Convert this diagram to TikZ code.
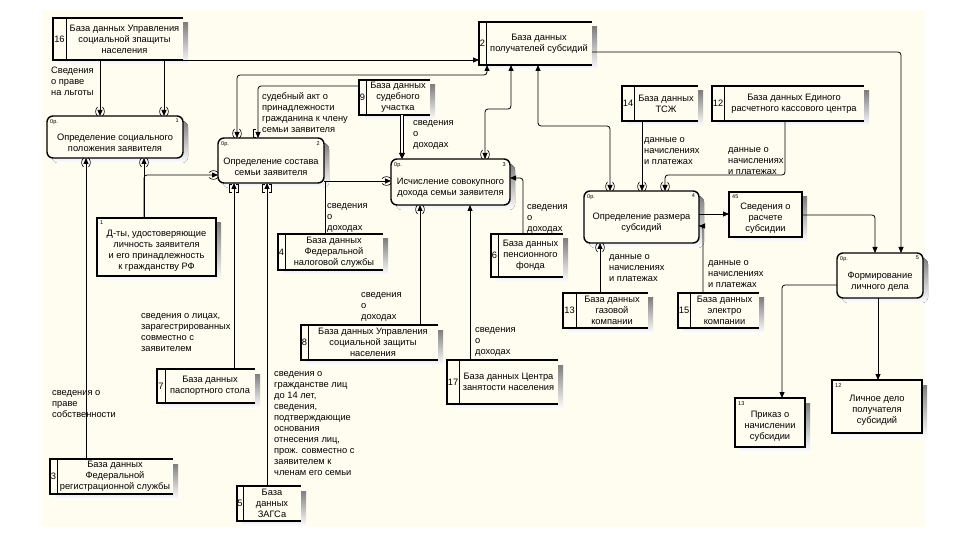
\documentclass[tikz,border=0pt]{standalone}
\usepackage{fontspec}
\setmainfont{Liberation Sans}
\usetikzlibrary{arrows.meta}
\definecolor{paper}{RGB}{255,252,240}
\definecolor{shade}{RGB}{150,150,150}
\tikzset{
  proc/.style={draw, line width=1.4pt, rounded corners=6pt, fill=paper, anchor=north west, inner sep=0pt, outer sep=0pt},
  store/.style={fill=paper, anchor=north west, inner sep=0pt, outer sep=0pt},
  outbox/.style={draw, line width=2.4pt, fill=paper, anchor=north west, inner sep=0pt, outer sep=0pt},
  boxtxt/.style={align=center, font=\fontsize{9.3}{11}\selectfont, inner sep=0pt},
  lbl/.style={align=left, anchor=north west, font=\fontsize{9.3}{11}\selectfont, inner sep=0pt},
  tag/.style={font=\fontsize{5.5}{6}\selectfont, inner sep=0pt},
  flow/.style={draw, line width=0.8pt, rounded corners=3pt, -{Triangle[length=6pt,width=5pt]}},
  twoway/.style={flow, {Triangle[length=6pt,width=5pt]}-{Triangle[length=6pt,width=5pt]}},
  dbl/.style={draw, line width=0.9pt, double=paper, double distance=1.8pt, -{Triangle[length=6pt,width=6pt]}},
  tmark/.style={line width=0.6pt},
  ptop/.pic={\draw[tmark] (-2.5,-9) .. controls (-5,-6) and (-5,-3) .. (-2.5,0)
                          (2.5,-9) .. controls (5,-6) and (5,-3) .. (2.5,0);},
  pbot/.pic={\draw[tmark] (-2.5,9) .. controls (-5,6) and (-5,3) .. (-2.5,0)
                          (2.5,9) .. controls (5,6) and (5,3) .. (2.5,0);},
  pleft/.pic={\draw[tmark] (-9,-2.5) .. controls (-6,-5) and (-3,-5) .. (0,-2.5)
                           (-9,2.5) .. controls (-6,5) and (-3,5) .. (0,2.5);},
  btop/.pic={\draw[tmark] (-2,-9) -- (-4.5,-9) -- (-4.5,-1) -- (-2,-1);},
  bbot/.pic={\draw[tmark] (-2,9) -- (-4.5,9) -- (-4.5,1) -- (-2,1)
                          (2,9) -- (4.5,9) -- (4.5,1) -- (2,1);},
}
\def\Stores{
  16/53/18/183/60/13/{База данных Управления\\социальной зпащиты\\населения},
  2/479/22/592/65/7/{База данных\\получателей субсидий},
  9/359/80/430/115/7/{База данных\\судебного\\участка},
  14/622/86/698/121/12/{База данных\\ТСЖ},
  12/712/86/864/121/12/{База данных Единого\\расчетного кассового центра},
  4/278/234/383/270/7/{База данных\\Федеральной\\налоговой службы},
  6/491/234/563/277/7/{База данных\\пенсионного\\фонда},
  8/301/325/438/360/7/{База данных Управления\\социальной защиты\\населения},
  17/447/360/558/404/12/{База данных Центра\\занятости населения},
  13/563/293/648/328/13/{База данных\\газовой\\компании},
  15/678/293/759/328/12/{База данных\\электро\\компании},
  7/157/369/255/403/8/{База данных\\паспортного стола},
  3/50/459/173/494/7/{База данных\\Федеральной\\регистрационной службы},
  5/237/486/301/521/6/{База\\данных\\ЗАГСа}}
\def\Procs{
  1/47/116/183/158/{Определение социального\\положения заявителя},
  2/218/138/324/183/{Определение состава\\семьи заявителя},
  3/391/159/510/205/{Исчисление совокупного\\дохода семьи заявителя},
  4/584/191/699/243/{Определение размера\\субсидий},
  5/837/253/923/298/{Формирование\\личного дела}}
\def\Outs{
  1/97/218/216/276/{Д-ты, удостоверяющие\\личность заявителя\\и его принадлежность\\к гражданству РФ},
  45/729/192/802/237/{Сведения о\\расчете\\субсидии},
  13/735/398/805/447/{Приказ о\\начислении\\субсидии},
  12/832/380/922/433/{Личное дело\\получателя\\субсидий}}
\begin{document}
\begin{tikzpicture}[x=1pt, y=-1pt]
  \fill[white] (0,0) rectangle (953,537);
  \fill[paper] (42,10) rectangle (925,527);
  % data stores
  \foreach \id/\xa/\ya/\xb/\yb/\w/\txt in \Stores {
    \fill[shade] (\xa+5,\ya+5) rectangle (\xb+5,\yb+5);
    \node[store, minimum width={(\xb-\xa)*1pt}, minimum height={(\yb-\ya)*1pt}] (s\id) at (\xa,\ya) {};
    \draw[line width=1.3pt] (s\id.north east) -- (s\id.north west) -- (s\id.south west) -- (s\id.south east);
    \draw[line width=1pt] ([xshift=\w*1pt]s\id.north west) -- ([xshift=\w*1pt]s\id.south west);
    \node[boxtxt] (ns\id) at ([xshift=\w*0.5pt]s\id.west) {\id};
    \node[boxtxt] (ts\id) at ([xshift=\w*0.5pt]s\id.center) {\txt};
  }
  % processes
  \foreach \id/\xa/\ya/\xb/\yb/\txt in \Procs {
    \fill[shade, rounded corners=6pt] (\xa+5,\ya+5) rectangle (\xb+5,\yb+5);
    \node[proc, minimum width={(\xb-\xa)*1pt}, minimum height={(\yb-\ya)*1pt}] (p\id) at (\xa,\ya) {};
    \node[boxtxt] (tp\id) at ([yshift=-6pt]p\id.center) {\txt};
    \node[tag, anchor=north west] (ap\id) at ([shift={(3pt,-3pt)}]p\id.north west) {0p.};
    \node[tag, anchor=north east] (np\id) at ([shift={(-4pt,-3pt)}]p\id.north east) {\id};
  }
  % outputs
  \foreach \id/\xa/\ya/\xb/\yb/\txt in \Outs {
    \fill[shade] (\xa+5,\ya+5) rectangle (\xb+5,\yb+5);
    \node[outbox, minimum width={(\xb-\xa)*1pt}, minimum height={(\yb-\ya)*1pt}] (o\id) at (\xa,\ya) {};
    \node[boxtxt] (to\id) at ([yshift=-4pt]o\id.center) {\txt};
    \node[tag, anchor=north west] (no\id) at ([shift={(3pt,-3pt)}]o\id.north west) {\id};
  }

  % flows
  \draw[flow] (s16.south -| 100,0) -- (p1.north -| 100,0);
  \draw[flow] (s16.south -| 164,0) -- (p1.north -| 164,0);
  \draw[flow] (s16.south east) -- (s2.west |- s16.south east);
  \draw[twoway] (p2.north -| 237,0) |- (487,75) -- (s2.south -| 487,0);
  \draw[flow] (s9.west |- 0,86) -| (p2.north -| 258,0);
  \draw[dbl] (s9.south -| 402,0) -- (p3.north -| 402,0);
  \draw[twoway] (s2.south -| 511,0) |- (485,109) -- (p3.north -| 485,0);
  \draw[twoway] (s2.south -| 538,0) |- (610,126) -- (p4.north -| 610,0);
  \draw[flow] (s2.east |- 0,52) -| (p5.north -| 901,0);
  \draw[flow] (s3.north -| 86,0) -- (p1.south -| 86,0);
  \draw[flow] (o1.north -| 144,0) -- (p1.south -| 144,0);
  \draw[flow] (o1.north -| 144,0) |- (p2.west |- 0,175);
  \draw[flow] (s7.north -| 234,0) -- (p2.south -| 234,0);
  \draw[flow] (s5.north -| 267,0) -- (p2.south -| 267,0);
  \draw[flow] (p2.east |- 0,181) -- (p3.west |- 0,181);
  \coordinate (j4) at (325,181);
  \draw[line width=0.8pt] (s4.north -| j4) -- (j4);
  \draw[flow] (s8.north -| 420,0) -- (p3.south -| 420,0);
  \draw[flow] (s17.north -| 470,0) -- (p3.south -| 470,0);
  \draw[flow] (s6.north -| 523,0) |- (p3.east |- 0,178);
  \draw[flow] (s13.north -| 600,0) -- (p4.south -| 600,0);
  \draw[flow] (s15.north -| 703,0) |- (p4.east |- 0,226);
  \draw[flow] (s14.south -| 642,0) -- (p4.north -| 642,0);
  \draw[flow] (s12.south -| 785,0) |- (665,175) -- (p4.north -| 665,0);
  \draw[flow] (p4.east |- 0,214) -- (o45.west |- 0,214);
  \draw[flow] (o45.east |- 0,215) -| (p5.north -| 875,0);
  \draw[flow] (p5.west |- 0,285) -| (o13.north -| 782,0);
  \draw[flow] (p5.south -| 878,0) -- (o12.north -| 878,0);

  % tunnel marks
  \foreach \pn/\px in {p1/100, p1/164, p2/237, p3/485, p4/610, p4/642, p4/665}
    \pic at (\pn.north -| \px,0) {ptop};
  \foreach \pn/\px in {p1/86, p1/144, p3/420, p4/600}
    \pic at (\pn.south -| \px,0) {pbot};
  \pic at (p2.west |- 0,175) {pleft};
  \pic at (p3.west |- 0,181) {pleft};
  \pic at (p2.north -| 258,0) {btop};
  \foreach \px in {234, 267}
    \pic at (p2.south -| \px,0) {bbot};

  % labels
  \node[lbl] (l1) at (51,67) {Сведения\\о праве\\на льготы};
  \node[lbl] (l2) at (262,92) {судебный акт о\\принадлежности\\гражданина к члену\\семьи заявителя};
  \node[lbl] (l3) at (413,120) {сведения\\о\\доходах};
  \node[lbl] (l4) at (327,203) {сведения\\о\\доходах};
  \node[lbl] (l5) at (361,292) {сведения\\о\\доходах};
  \node[lbl] (l6) at (475,327) {сведения\\о\\доходах};
  \node[lbl] (l7) at (527,204) {сведения\\о\\доходах};
  \node[lbl] (l8) at (609,254) {данные о\\начислениях\\и платежах};
  \node[lbl] (l9) at (708,260) {данные о\\начислениях\\и платежах};
  \node[lbl] (l10) at (644,137) {данные о\\начислениях\\и платежах};
  \node[lbl] (l11) at (728,147) {данные о\\начислениях\\и платежах};
  \node[lbl] (l12) at (52,390) {сведения о\\праве\\собственности};
  \node[lbl] (l13) at (141,313) {сведения о лицах,\\зарагестрированных\\совместно с\\заявителем};
  \node[lbl] (l14) at (274,371) {сведения о\\гражданстве лиц\\до 14 лет,\\сведения,\\подтверждающие\\основания\\отнесения лиц,\\прож. совместно с\\заявителем к\\членам его семьи};
\end{tikzpicture}
\end{document}
